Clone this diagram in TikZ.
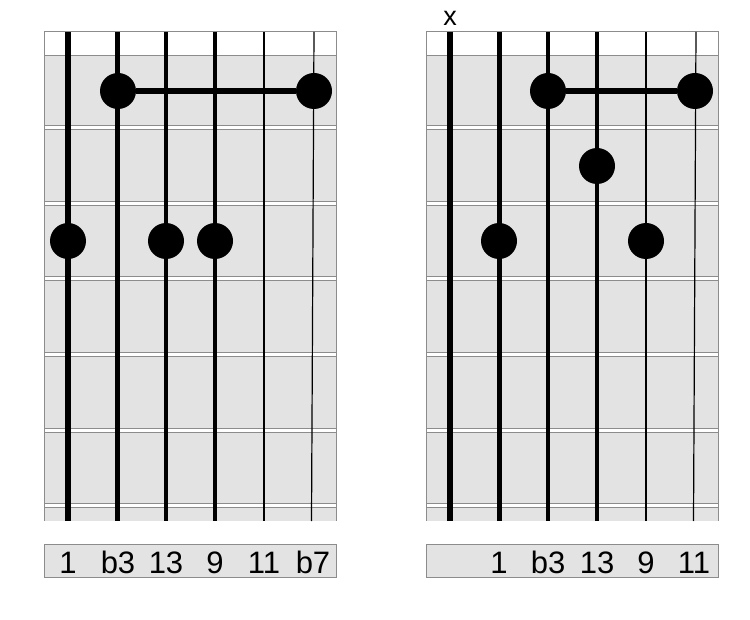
\documentclass[tikz,border=0pt]{standalone}
\usepackage{fontspec}
\setmainfont{Liberation Sans}
\usetikzlibrary{calc, positioning}
\definecolor{boardgray}{RGB}{227,227,227}
\definecolor{edgegray}{RGB}{140,140,140}
\newcommand\fret[1]{\draw[edgegray, line width=5pt] (0,#1) -- (292,#1);\draw[white, line width=3pt] (0,#1) -- (292,#1);}
\newcommand\fretboard[1]{\begin{scope}[shift={(#1,0)}]
\fill[boardgray] (0,56) rectangle (292,521);
\fill[white] (0,32) rectangle (292,56);
\fret{128}
\fret{204}
\fret{279}
\fret{355}
\fret{430}
\fret{505}
\draw[edgegray, line width=1pt] (0,521) -- (0,32) -- (292,32) -- (292,521);
\draw[edgegray, line width=1pt] (0,56) -- (292,56);
\draw[line width=6.5pt] (24,32) -- (24,521);
\draw[line width=5pt] (73,32) -- (73,521);
\draw[line width=4pt] (122,32) -- (122,521);
\draw[line width=3.2pt] (171,32) -- (171,521);
\draw[line width=2pt] (220,32) -- (220,521);
\draw[line width=1.2pt] (270,32) -- (267.5,521);
\fill[boardgray, draw=edgegray, line width=1pt] (0,544) rectangle (292,577);
\end{scope}}

\begin{document}
\begin{tikzpicture}[x=1pt, y=-1pt,
	dot/.style={circle, fill=black, minimum size=36pt, inner sep=0pt},
	barre/.style={line width=6pt},
	degree/.style={anchor=base, inner sep=0pt, font=\fontsize{31}{33}\selectfont}]
\useasboundingbox (0,0) rectangle (750,620);
\fretboard{44}
\fretboard{426}

% left chord
\node[dot] (lbthree) at (118,91) {};
\node[dot] (lbseven) at (314,91) {};
\node[dot] (lroot) at (68,241) {};
\node[dot] (lthirteen) at (166,241) {};
\node[dot] (lnine) at (215,241) {};
\draw[barre] (lbthree) -- (lbseven);
\node[degree] (ldeg1) at (68,573) {1};
\node[degree] (ldeg2) at (118,573) {b3};
\node[degree] (ldeg3) at (166,573) {13};
\node[degree] (ldeg4) at (215,573) {9};
\node[degree] (ldeg5) at (264,573) {11};
\node[degree] (ldeg6) at (313,573) {b7};

% right chord
\node[degree, font=\fontsize{27}{29}\selectfont] (rmute) at (450,26) {x};
\node[dot] (rbthree) at (548,91) {};
\node[dot] (releven) at (695,91) {};
\node[dot] (rthirteen) at (597,166) {};
\node[dot] (rroot) at (499,241) {};
\node[dot] (rnine) at (646,241) {};
\draw[barre] (rbthree) -- (releven);
\node[degree] (rdeg2) at (499,573) {1};
\node[degree] (rdeg3) at (548,573) {b3};
\node[degree] (rdeg4) at (597,573) {13};
\node[degree] (rdeg5) at (646,573) {9};
\node[degree] (rdeg6) at (694,573) {11};
\end{tikzpicture}
\end{document}
